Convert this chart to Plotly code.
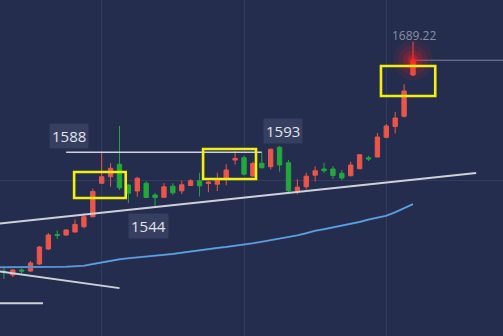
import plotly.graph_objects as go

# ---- candle data (index = candle number) ----
idx = list(range(47))
opens = [1457.4, 1453.0, 1458.5, 1457.4, 1465.1, 1481.6, 1497.6, 1497.0, 1500.3, 1506.1,
         1517.1, 1553.9, 1561.1, 1574.8, 1552.0, 1545.4, 1553.9, 1541.0, 1538.5, 1550.7,
         1545.6, 1551.5, 1556.6, 1553.7, 1552.9, 1558.6, 1579.5, 1582.0, 1561.9, 1575.9,
         1572.1, 1593.5, 1576.5, 1545.7, 1550.0, 1562.8, 1569.6, 1569.6, 1564.9, 1562.2,
         1569.9, 1581.9, 1582.8, 1604.5, 1616.4, 1627.6, 1673.0]
highs = [1460.7, 1459.6, 1461.8, 1468.4, 1484.9, 1499.2, 1502.0, 1503.6, 1514.1, 1520.9,
         1547.9, 1587.5, 1575.9, 1616.9, 1552.5, 1561.1, 1556.1, 1543.2, 1554.0, 1554.0,
         1556.7, 1558.6, 1565.4, 1556.1, 1565.4, 1574.8, 1589.4, 1583.9, 1577.6, 1587.2,
         1592.2, 1594.9, 1579.5, 1558.4, 1565.4, 1572.4, 1576.5, 1572.9, 1568.5, 1577.6,
         1585.8, 1584.1, 1609.2, 1619.1, 1632.3, 1662.9, 1709.6]
lows = [1448.6, 1450.8, 1454.1, 1456.3, 1464.0, 1480.5, 1492.6, 1495.9, 1499.8, 1504.4,
        1516.3, 1553.1, 1550.1, 1546.5, 1532.2, 1539.1, 1537.7, 1527.8, 1537.7, 1541.0,
        1542.1, 1550.9, 1539.4, 1544.0, 1545.4, 1551.8, 1574.3, 1562.5, 1561.1, 1570.2,
        1569.1, 1566.6, 1543.2, 1541.6, 1547.1, 1555.9, 1565.2, 1558.6, 1557.5, 1561.4,
        1569.4, 1578.4, 1582.3, 1603.4, 1608.9, 1626.3, 1671.9]
closes = [1456.3, 1458.5, 1457.4, 1466.2, 1483.8, 1497.0, 1496.5, 1502.5, 1508.6, 1517.1,
          1544.9, 1561.1, 1570.4, 1549.0, 1543.0, 1559.4, 1538.3, 1538.3, 1550.0, 1543.4,
          1552.2, 1556.6, 1551.1, 1555.3, 1557.7, 1568.5, 1581.2, 1563.9, 1575.7, 1571.0,
          1591.3, 1574.0, 1545.7, 1549.6, 1561.7, 1567.7, 1567.7, 1562.5, 1559.7, 1574.0,
          1585.3, 1580.6, 1604.8, 1616.9, 1625.7, 1655.4, 1689.22]

# ---- moving average ----
ma_x = list(range(-1, 47))
ma_y = [1461.5, 1461.5, 1461.4, 1461.3, 1461.3, 1461.4, 1461.5, 1461.7, 1462.1, 1462.6, 1463.2,
        1465.0, 1467.0, 1468.8, 1470.2, 1471.4, 1472.3, 1473.2, 1474.0, 1474.7, 1476.2,
        1477.6, 1479.1, 1480.4, 1481.6, 1482.8, 1483.9, 1485.0, 1486.2, 1487.9, 1489.6,
        1491.2, 1492.8, 1494.7, 1496.6, 1499.0, 1501.7, 1503.4, 1505.3, 1507.3, 1509.3,
        1511.4, 1514.0, 1516.1, 1518.2, 1522.0, 1526.3, 1531.0]

# ---- drawn lines (x in candle index, y in price) ----
trend_up_x = [-0.5, 53.1]
trend_up_y = [1509.6, 1565.2]
trend_low_x = [-0.5, 13.0]
trend_low_y = [1456.9, 1438.5]
short_x = [-0.5, 4.4]
short_y = [1421.9, 1421.9]
level_1588_x = [7.0, 29.0]
level_1588 = 1588
last_x = [46, 57]
last_price = 1689.22

# ---- highlight boxes [x0, x1, y0, y1] ----
box_x0 = [7.9, 22.4, 42.4]
box_x1 = [13.7, 28.35, 48.5]
box_y0 = [1537.7, 1558.6, 1649.9]
box_y1 = [1566.3, 1591.6, 1682.9]

# ---- labels ----
label_text = ["1588", "1544", "1593"]
label_x = [7.32, 16.26, 31.38]
label_y = [1605.4, 1506.4, 1611.4]

BG = "#252d4e"
RED = "#e9564a"
GREEN = "#22a83c"

fig = go.Figure()

fig.add_trace(go.Scatter(x=ma_x, y=ma_y, mode="lines",
                         line=dict(color="#6c68b4", width=2.0), hoverinfo="skip"))
fig.add_trace(go.Scatter(x=ma_x, y=ma_y, mode="lines",
                         line=dict(color="#45b2e6", width=1.2), hoverinfo="skip"))

for xs, ys, c, w in [(trend_up_x, trend_up_y, "#cfd1da", 1.8),
                     (trend_low_x, trend_low_y, "#cfd1da", 1.8),
                     (short_x, short_y, "#cfd1da", 1.8),
                     (level_1588_x, [level_1588] * 2, "#cfd1da", 1.5),
                     (last_x, [last_price] * 2, "#7c8294", 1.2)]:
    fig.add_trace(go.Scatter(x=xs, y=ys, mode="lines", line=dict(color=c, width=w),
                             hoverinfo="skip"))

fig.add_trace(go.Candlestick(
    x=idx, open=opens, high=highs, low=lows, close=closes,
    increasing=dict(line=dict(color=RED, width=1), fillcolor=RED),
    decreasing=dict(line=dict(color=GREEN, width=1), fillcolor=GREEN),
    whiskerwidth=0, hoverinfo="skip"))

# glow on last price
for s, op in [(40, 0.08), (30, 0.12), (20, 0.2), (11, 0.35), (5, 0.6)]:
    fig.add_trace(go.Scatter(x=[idx[-1]], y=[closes[-1]], mode="markers",
                             marker=dict(size=s, color="#ff1e1e", opacity=op, line=dict(width=0)),
                             hoverinfo="skip"))

for x0, x1, y0, y1 in zip(box_x0, box_x1, box_y0, box_y1):
    fig.add_shape(type="rect", x0=x0, x1=x1, y0=y0, y1=y1,
                  line=dict(color="#f2ef12", width=2.6))

for t, x, y in zip(label_text, label_x, label_y):
    fig.add_annotation(x=x, y=y, text=t, showarrow=False,
                       font=dict(family="Open Sans", size=15, color="#e2e3ea"),
                       bgcolor="#363f60", borderpad=2)

fig.add_annotation(x=46.12, y=1717.0, text=f"{last_price:.2f}", showarrow=False,
                   font=dict(family="Open Sans", size=12, color="#8a8fa0"))

fig.update_layout(
    width=503, height=336, margin=dict(l=0, r=0, t=0, b=0),
    paper_bgcolor=BG, plot_bgcolor=BG, showlegend=False,
    xaxis=dict(range=[-0.435, 56.12], showticklabels=False, tickvals=[11, 27, 43],
               showgrid=True, gridcolor="#333c5c", gridwidth=1, zeroline=False,
               rangeslider=dict(visible=False), fixedrange=True),
    yaxis=dict(range=[1385.9, 1755.5], showticklabels=False, tickvals=[1557.5],
               showgrid=True, gridcolor="#333c5c", gridwidth=1, zeroline=False),
)

fig.write_html("out.html")
